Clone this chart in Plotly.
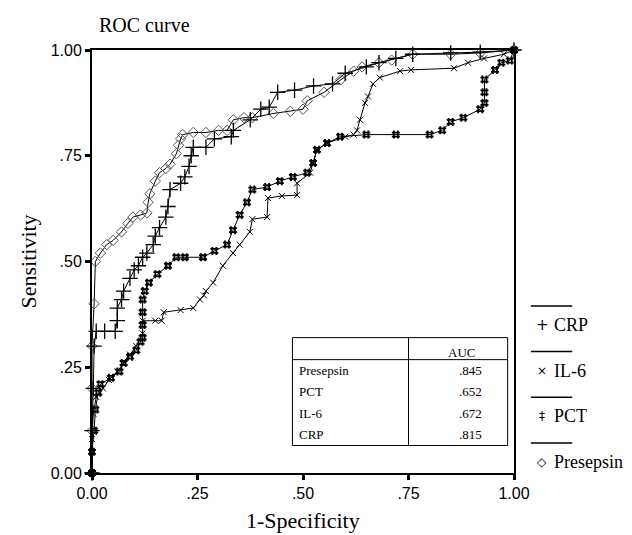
import plotly.graph_objects as go

# ---------------- data ----------------
presepsin_x = [0, 0, 0, 0, 0.005, 0.008, 0.02, 0.035, 0.05, 0.07, 0.085, 0.097, 0.115, 0.13, 0.133, 0.137,
               0.15, 0.16, 0.175, 0.185, 0.2, 0.205, 0.21, 0.215, 0.24, 0.27, 0.3, 0.32, 0.335, 0.36, 0.38,
               0.43, 0.47, 0.5, 0.51, 0.55, 0.59, 0.62, 0.64, 0.68, 0.71, 0.76, 0.85, 0.92, 1]
presepsin_y = [0, 0.1, 0.2, 0.3, 0.4, 0.5, 0.52, 0.54, 0.55, 0.57, 0.59, 0.605, 0.61, 0.615, 0.64, 0.66,
               0.69, 0.71, 0.72, 0.73, 0.755, 0.775, 0.79, 0.80, 0.805, 0.805, 0.81, 0.81, 0.835, 0.84, 0.84,
               0.85, 0.855, 0.86, 0.88, 0.9, 0.93, 0.95, 0.96, 0.97, 0.976, 0.99, 0.99, 0.993, 1]

crp_x = [0, 0, 0.003, 0.005, 0.01, 0.03, 0.055, 0.06, 0.06, 0.07, 0.075, 0.09, 0.1, 0.11, 0.12, 0.13, 0.145,
         0.15, 0.16, 0.175, 0.18, 0.185, 0.21, 0.22, 0.23, 0.235, 0.24, 0.27, 0.29, 0.33, 0.335, 0.375, 0.4,
         0.42, 0.44, 0.48, 0.525, 0.57, 0.6, 0.65, 0.68, 0.72, 0.76, 0.85, 0.92, 1]
crp_y = [0, 0.1, 0.2, 0.3, 0.335, 0.335, 0.335, 0.36, 0.39, 0.41, 0.43, 0.46, 0.48, 0.49, 0.51, 0.52, 0.54,
         0.56, 0.58, 0.605, 0.63, 0.67, 0.685, 0.70, 0.725, 0.75, 0.77, 0.77, 0.79, 0.795, 0.81, 0.835, 0.86,
         0.865, 0.9, 0.905, 0.915, 0.92, 0.945, 0.96, 0.97, 0.98, 0.99, 0.993, 0.995, 1]

pct_x = [0, 0, 0.005, 0.008, 0.015, 0.02, 0.045, 0.065, 0.075, 0.09, 0.105, 0.115, 0.12, 0.12, 0.12, 0.12,
         0.125, 0.135, 0.155, 0.18, 0.2, 0.22, 0.263, 0.29, 0.32, 0.334, 0.35, 0.367, 0.38, 0.415, 0.445,
         0.476, 0.51, 0.524, 0.533, 0.557, 0.588, 0.65, 0.72, 0.8, 0.83, 0.85, 0.88, 0.92, 0.93, 0.93, 0.93,
         0.955, 0.97, 0.99, 1]
pct_y = [0, 0.05, 0.1, 0.15, 0.19, 0.21, 0.225, 0.24, 0.26, 0.275, 0.29, 0.31, 0.32, 0.35, 0.38, 0.41,
         0.43, 0.45, 0.47, 0.49, 0.51, 0.51, 0.51, 0.525, 0.54, 0.574, 0.61, 0.64, 0.67, 0.676, 0.69,
         0.70, 0.71, 0.733, 0.764, 0.78, 0.795, 0.8, 0.8, 0.8, 0.81, 0.83, 0.84, 0.86, 0.875, 0.9, 0.93,
         0.953, 0.97, 0.975, 1]

il6_x = [0, 0, 0.003, 0.01, 0.026, 0.04, 0.06, 0.075, 0.09, 0.105, 0.12, 0.12, 0.15, 0.165, 0.17, 0.21,
         0.24, 0.256, 0.265, 0.27, 0.287, 0.31, 0.334, 0.35, 0.374, 0.38, 0.415, 0.417, 0.45, 0.486, 0.486,
         0.517, 0.524, 0.533, 0.557, 0.6, 0.62, 0.628, 0.635, 0.647, 0.654, 0.666, 0.682, 0.73, 0.756,
         0.858, 0.891, 0.929, 0.976, 1]
il6_y = [0, 0.08, 0.14, 0.18, 0.2, 0.22, 0.24, 0.26, 0.28, 0.3, 0.33, 0.36, 0.36, 0.36, 0.38, 0.385,
         0.39, 0.41, 0.42, 0.43, 0.45, 0.49, 0.52, 0.54, 0.57, 0.6, 0.605, 0.65, 0.655, 0.657, 0.685,
         0.71, 0.733, 0.764, 0.78, 0.795, 0.80, 0.81, 0.835, 0.875, 0.89, 0.92, 0.935, 0.95, 0.953,
         0.957, 0.97, 0.98, 0.99, 1]

table_labels = ["Presepsin", "PCT", "IL-6", "CRP"]
table_auc = [".845", ".652", ".672", ".815"]

legend_names = ["CRP", "IL-6", "PCT", "Presepsin"]
legend_symbols = ["+", "×", "‡", "◇"]

tick_vals = [0, 0.25, 0.5, 0.75, 1]
tick_text = ["0.00", ".25", ".50", ".75", "1.00"]

# ---------------- figure ----------------
SERIF = "Liberation Serif"
SANS = "Liberation Sans"

fig = go.Figure()

series = [
    (presepsin_x, presepsin_y, "diamond-open", 8, "#555555", 1.0),
    (il6_x, il6_y, "x-thin-open", 6, "black", 1.0),
    (crp_x, crp_y, "cross-thin-open", 11, "black", 1.3),
    (pct_x, pct_y, "hash-open", 8, "black", 1.8),
]
for xs, ys, sym, size, col, lw in series:
    fig.add_trace(go.Scatter(
        x=xs, y=ys, mode="lines+markers",
        line=dict(color="black", width=1, shape="linear"),
        marker=dict(symbol=sym, size=size, color=col, line=dict(color=col, width=lw)),
        cliponaxis=False, showlegend=False, hoverinfo="skip"))

axis_common = dict(
    range=[0, 1], tickvals=tick_vals, ticktext=tick_text,
    showline=True, linecolor="black", linewidth=2, mirror=True,
    ticks="outside", ticklen=5, tickwidth=3, tickcolor="black",
    showgrid=False, zeroline=False,
    tickfont=dict(family=SANS, size=16, color="black"),
)

fig.update_layout(
    width=632, height=535,
    margin=dict(l=92, r=118, t=50, b=62),
    paper_bgcolor="white", plot_bgcolor="white",
    xaxis=dict(**axis_common),
    yaxis=dict(**axis_common),
    showlegend=False,
    font=dict(family=SERIF, color="black"),
)

# Title and axis titles
fig.add_annotation(text="ROC curve", xref="paper", yref="paper", x=0.012, y=1.0, yshift=12,
                   xanchor="left", yanchor="bottom", showarrow=False,
                   font=dict(family=SERIF, size=20, color="black"))
fig.add_annotation(text="1-Specificity", xref="paper", yref="paper", x=0.5, y=0, yshift=-33,
                   xanchor="center", yanchor="top", showarrow=False,
                   font=dict(family=SERIF, size=22, color="black"))
fig.add_annotation(text="Sensitivity", xref="paper", yref="paper", x=0, y=0.5, xshift=-64,
                   xanchor="center", yanchor="middle", textangle=-90, showarrow=False,
                   font=dict(family=SERIF, size=22, color="black"))

# AUC table (in data coordinates of the plot)
tx0, tx1, tdiv = 0.475, 0.985, 0.75
ty_top, ty_head, ty_bot = 0.32, 0.268, 0.065
fig.add_shape(type="rect", x0=tx0, x1=tx1, y0=ty_bot, y1=ty_top,
              line=dict(color="black", width=1), fillcolor="white", layer="above")
fig.add_shape(type="line", x0=tx0, x1=tx1, y0=ty_head, y1=ty_head, line=dict(color="black", width=1))
fig.add_shape(type="line", x0=tdiv, x1=tdiv, y0=ty_bot, y1=ty_top, line=dict(color="black", width=1))
fig.add_annotation(text="AUC", x=0.875, y=ty_head, xanchor="center", yanchor="bottom", showarrow=False,
                   yshift=-2, font=dict(family=SERIF, size=13, color="black"))
row_step = (ty_head - ty_bot) / len(table_labels)
for i, (lab, auc) in enumerate(zip(table_labels, table_auc)):
    yc = ty_head - row_step * (i + 0.5)
    fig.add_annotation(text=lab, x=tx0 + 0.01, y=yc, xanchor="left", yanchor="middle", showarrow=False,
                       font=dict(family=SERIF, size=13, color="black"))
    fig.add_annotation(text=auc, x=0.93, y=yc, xanchor="right", yanchor="middle", showarrow=False,
                       font=dict(family=SERIF, size=13, color="black"))

# Custom legend on the right (paper coordinates)
for i, (name, sym) in enumerate(zip(legend_names, legend_symbols)):
    y_line = 0.395 - i * 0.108
    fig.add_shape(type="line", xref="paper", yref="paper", x0=1.04, x1=1.138, y0=y_line, y1=y_line,
                  line=dict(color="black", width=1.5))
    fig.add_annotation(text=sym, xref="paper", yref="paper", x=1.067, y=y_line - 0.045,
                       xanchor="center", yanchor="middle", showarrow=False,
                       font=dict(family="DejaVu Sans", size=12 if sym != "+" else 15, color="black"))
    fig.add_annotation(text=name, xref="paper", yref="paper", x=1.09, y=y_line - 0.045,
                       xanchor="left", yanchor="middle", showarrow=False,
                       font=dict(family=SERIF, size=18, color="black"))

fig.write_html("out.html")
